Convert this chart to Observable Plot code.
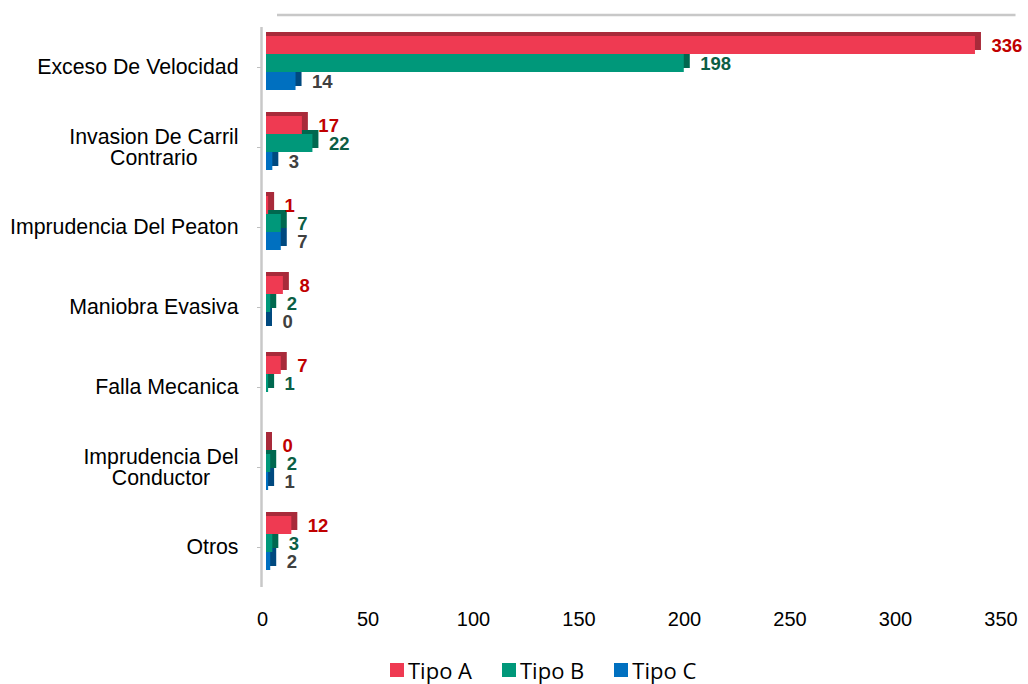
<!DOCTYPE html>
<html>
<head>
<meta charset="utf-8">
<script src="https://cdn.jsdelivr.net/npm/d3@7"></script>
<script src="https://cdn.jsdelivr.net/npm/@observablehq/plot@0.6"></script>
<style>
  html, body { margin: 0; padding: 0; background: #fff; }
  #chart { width: 1028px; height: 645px; }
  #legend { width: 1028px; margin-top: 8px; padding-left: 390px; box-sizing: border-box; }
  g[aria-label="fy-axis tick"], g[aria-label="fy-axis tick"] path { stroke: #bfbfbf; }
  g[aria-label="fy-axis tick label"] { font-size: 21.3px; }
  .lg-swatch { margin-right: 30px !important; font-family: "Open Sans", sans-serif; font-size: 22px; color: #000; }
  .lg-swatch > svg { margin-right: 4px !important; }
</style>
</head>
<body>
<div id="chart"></div>
<div id="legend"></div>
<script>
const categories = [
  "Exceso De Velocidad",
  "Invasion De Carril\nContrario",
  "Imprudencia Del Peaton",
  "Maniobra Evasiva",
  "Falla Mecanica",
  "Imprudencia Del\nConductor",
  "Otros"
];
const tipos = ["Tipo A", "Tipo B", "Tipo C"];
const tipoA = [336, 17, 1, 8, 7, 0, 12];
const tipoB = [198, 22, 7, 2, 1, 2, 3];
const tipoC = [14, 3, 7, 0, null, 1, 2];
const xTicks = [0, 50, 100, 150, 200, 250, 300, 350];

const faceColors = ["#ef3a52", "#00987a", "#0070c0"];
const sideColors = ["#a82a3a", "#00684f", "#00497f"];
const labelColors = ["#c00000", "#0b5e45", "#404040"];

const series = [tipoA, tipoB, tipoC];
const data = [];
categories.forEach((cat, i) => {
  tipos.forEach((t, j) => {
    const v = series[j][i];
    if (v !== null && v !== undefined) data.push({cat, tipo: t, value: v});
  });
});

const face = d3.scaleOrdinal(tipos, faceColors);
const side = d3.scaleOrdinal(tipos, sideColors);
const lab = d3.scaleOrdinal(tipos, labelColors);

const plot = Plot.plot({
  width: 1028,
  height: 645,
  marginLeft: 262,
  marginRight: 27.5,
  marginTop: 25,
  marginBottom: 57,
  style: {fontFamily: "'Liberation Sans', Arial, sans-serif", fontSize: "20px", color: "#000", background: "#fff"},
  x: {domain: [0, 350], ticks: xTicks, tickSize: 0, tickPadding: 24, label: null},
  y: {domain: tipos, axis: null, paddingInner: 0, paddingOuter: 0.43, insetBottom: 9},
  fy: {domain: categories, padding: 0, axis: "left", label: null, tickSize: 5, tickPadding: 19},
  marks: [
    Plot.ruleY([categories[0]], {fy: d => d, y: null, x1: 0, x2: 350, dx: 15, dy: -52.5, stroke: "#c8c8c8", strokeWidth: 2.5}),
    Plot.ruleX([0], {stroke: "#c8c8c8", strokeWidth: 2.5, dx: -1}),
    Plot.barX(data, {x: "value", y: "tipo", fy: "cat", fill: d => side(d.tipo), dx: 4, dy: -4, insetRight: -6}),
    Plot.barX(data, {x: "value", y: "tipo", fy: "cat", fill: d => face(d.tipo), dx: 4}),
    Plot.text(data, {x: "value", y: "tipo", fy: "cat", text: d => String(d.value), dx: 20, dy: 1, textAnchor: "start",
      fill: d => lab(d.tipo), fontWeight: "bold", fontSize: 18.5, fontFamily: "'Liberation Sans', Arial, sans-serif"})
  ]
});
document.getElementById("chart").appendChild(plot);

// center multi-line category labels on their widest line
plot.querySelectorAll('g[aria-label="fy-axis tick label"] text').forEach(t => {
  const spans = t.querySelectorAll("tspan");
  if (spans.length > 1) {
    let maxW = 0;
    spans.forEach(s => { maxW = Math.max(maxW, s.getComputedTextLength()); });
    t.setAttribute("text-anchor", "middle");
    t.style.textAnchor = "middle";
    spans.forEach(s => s.setAttribute("x", -maxW / 2));
  }
});

const legend = Plot.legend({
  color: {domain: tipos, range: faceColors},
  swatchSize: 14,
  className: "lg"
});
document.getElementById("legend").appendChild(legend);
</script>
</body>
</html>
